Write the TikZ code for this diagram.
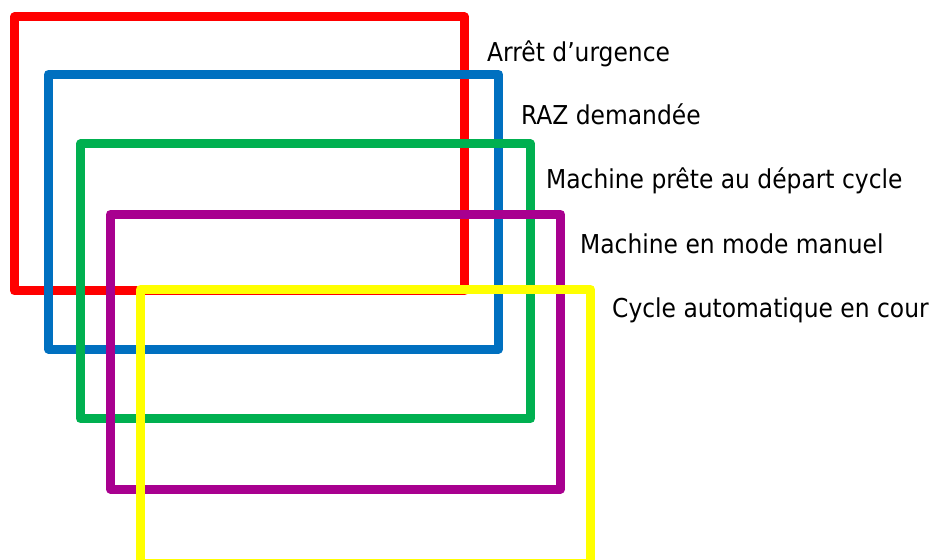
\documentclass[tikz,border=0pt]{standalone}
\usepackage{fontspec}
\setmainfont{DejaVu Sans Condensed}
\definecolor{cred}{HTML}{FF0000}
\definecolor{cblue}{HTML}{0070C0}
\definecolor{cgreen}{HTML}{00B050}
\definecolor{cpurple}{HTML}{A8008F}
\definecolor{cyellow}{HTML}{FFFF00}
\begin{document}
\begin{tikzpicture}[x=1bp,y=-1bp,
  frame/.style={line width=9bp, line join=round},
  lbl/.style={anchor=base west, inner sep=0pt, font=\fontsize{26bp}{30bp}\selectfont}]
\useasboundingbox (0,0) rectangle (931,560);
\draw[frame, cred] (14.5,17) rectangle (464.5,291);
\draw[frame, cblue] (48.5,74.5) rectangle (498.5,349);
\draw[frame, cgreen] (80.5,144) rectangle (530.5,418.5);
\draw[frame, cpurple] (110.5,214.5) rectangle (560.5,489);
\draw[frame, cyellow] (140.5,289.5) rectangle (590.5,563);
\node[lbl] (l1) at (487,61.5) {Arrêt d’urgence};
\node[lbl] (l2) at (521,124.5) {RAZ demandée};
\node[lbl] (l3) at (546,188.5) {Machine prête au départ cycle};
\node[lbl] (l4) at (580,253.5) {Machine en mode manuel};
\node[lbl] (l5) at (612,317.5) {Cycle automatique en cour};
\end{tikzpicture}
\end{document}
